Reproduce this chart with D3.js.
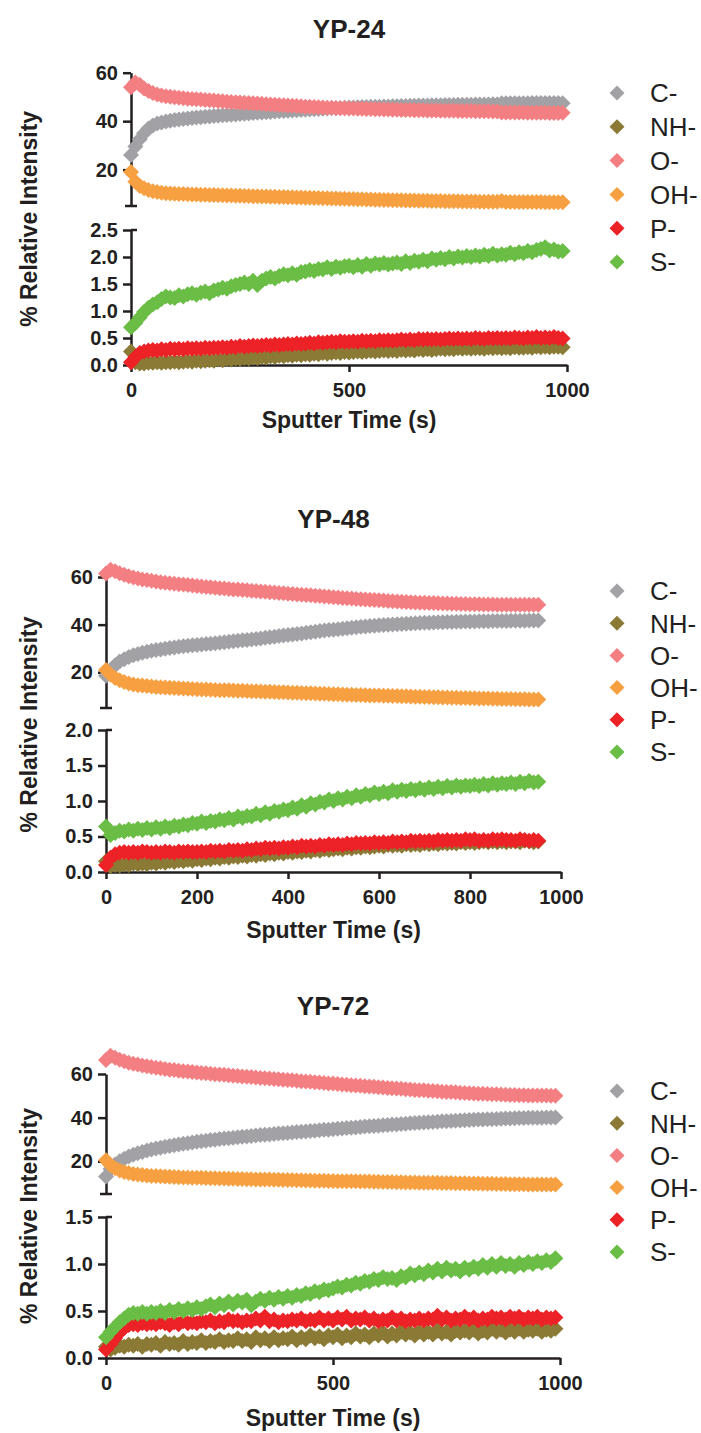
<!DOCTYPE html>
<html>
<head>
<meta charset="utf-8">
<script src="https://cdn.jsdelivr.net/npm/d3@7"></script>
<style>
  body { margin: 0; background: #fff; }
  svg { display: block; }
  .axis path, .axis line { stroke: #231f20; stroke-width: 2.5px; }
  .axis text { font-family: "Liberation Sans", Arial, sans-serif; font-weight: bold; font-size: 20px; fill: #231f20; }
</style>
</head>
<body>
<div id="chart"></div>
<script>
// Depth profiles: % relative intensity vs sputter time, one point every 10 s

const series = ["C-", "NH-", "O-", "OH-", "P-", "S-"];
const colors = ["#a2a1a5", "#8a7a35", "#f47f83", "#f7a042", "#ec2227", "#6abd45"];
const upperSeries = ["C-", "O-", "OH-"];
const stepSeconds = 10;

// ---- YP-24 ----
const c24 = [26.0,29.5,32.5,35.0,37.0,38.2,39.0,39.5,39.9,40.2, 40.5,40.7,40.9,41.1,41.3,41.5,41.6,41.8,41.9,42.1,
  42.2,42.4,42.5,42.7,42.8,43.0,43.1,43.2,43.4,43.5, 43.6,43.7,43.8,44.0,44.1,44.2,44.3,44.4,44.5,44.6,
  44.7,44.8,44.9,45.0,45.1,45.2,45.3,45.3,45.4,45.5, 45.6,45.6,45.7,45.8,45.8,45.9,46.0,46.0,46.1,46.1,
  46.2,46.2,46.3,46.3,46.4,46.4,46.5,46.5,46.5,46.6, 46.6,46.6,46.7,46.7,46.7,46.8,46.8,46.8,46.8,46.9,
  46.9,46.9,46.9,47.0,47.0,47.4,47.4,47.4,47.4,47.4, 47.4,47.4,47.5,47.5,47.5,47.5,47.5,47.5,47.5,47.4];
const nh24 = [0.25,0.05,0.03,0.03,0.04,0.04,0.05,0.04,0.05,0.05, 0.06,0.05,0.06,0.07,0.06,0.08,0.07,0.08,0.09,0.08,
  0.10,0.09,0.11,0.10,0.12,0.11,0.13,0.12,0.14,0.13, 0.15,0.14,0.16,0.15,0.17,0.16,0.18,0.17,0.19,0.18,
  0.20,0.19,0.21,0.20,0.22,0.21,0.22,0.23,0.22,0.24, 0.23,0.24,0.25,0.24,0.25,0.26,0.25,0.26,0.27,0.26,
  0.27,0.26,0.28,0.27,0.28,0.27,0.29,0.28,0.29,0.28, 0.29,0.30,0.29,0.30,0.29,0.31,0.30,0.31,0.30,0.31,
  0.31,0.30,0.32,0.31,0.32,0.31,0.32,0.31,0.33,0.32, 0.32,0.33,0.32,0.34,0.33,0.34,0.33,0.34,0.34,0.33];
const o24 = [54.0,56.0,55.0,53.5,52.4,51.6,51.0,50.6,50.3,50.1, 49.9,49.7,49.5,49.3,49.2,49.0,48.9,48.7,48.6,48.5,
  48.3,48.2,48.0,47.9,47.8,47.7,47.6,47.5,47.4,47.3, 47.2,47.0,46.9,46.8,46.7,46.6,46.5,46.4,46.3,46.2,
  46.0,45.9,45.8,45.7,45.6,45.5,45.5,45.4,45.3,45.3, 45.2,45.2,45.1,45.1,45.0,45.0,44.9,44.9,44.8,44.8,
  44.7,44.7,44.6,44.6,44.6,44.5,44.5,44.5,44.4,44.4, 44.4,44.3,44.3,44.3,44.3,44.2,44.2,44.2,44.2,44.1,
  44.1,44.1,44.1,44.0,44.0,43.6,43.6,43.6,43.6,43.6, 43.6,43.5,43.5,43.5,43.5,43.5,43.4,43.4,43.4,43.5];
const oh24 = [19.0,15.0,13.3,12.3,11.6,11.1,10.8,10.5,10.3,10.2, 10.1,10.0,9.9,9.8,9.7,9.7,9.6,9.6,9.5,9.5,
  9.4,9.4,9.3,9.3,9.2,9.2,9.1,9.1,9.0,9.0, 8.9,8.9,8.8,8.8,8.7,8.7,8.6,8.6,8.5,8.5,
  8.4,8.4,8.3,8.3,8.2,8.2,8.1,8.1,8.0,8.0, 7.9,7.9,7.8,7.8,7.7,7.7,7.6,7.6,7.5,7.5,
  7.4,7.4,7.4,7.3,7.3,7.3,7.2,7.2,7.2,7.1, 7.1,7.1,7.0,7.0,7.0,7.0,6.9,6.9,6.9,6.9,
  6.8,6.8,6.8,6.8,6.8,7.1,6.7,6.7,6.7,6.7, 6.6,6.6,6.6,6.6,6.6,6.5,6.5,6.5,6.5,6.5];
const p24 = [0.05,0.15,0.22,0.25,0.27,0.28,0.27,0.29,0.28,0.30, 0.29,0.30,0.29,0.31,0.30,0.31,0.30,0.32,0.31,0.32,
  0.32,0.33,0.32,0.34,0.33,0.35,0.34,0.35,0.36,0.35, 0.36,0.37,0.36,0.38,0.37,0.38,0.39,0.38,0.40,0.39,
  0.40,0.41,0.40,0.42,0.41,0.42,0.43,0.42,0.44,0.43, 0.43,0.44,0.43,0.45,0.44,0.45,0.44,0.46,0.45,0.46,
  0.45,0.46,0.47,0.46,0.47,0.46,0.48,0.47,0.48,0.47, 0.48,0.47,0.48,0.49,0.48,0.49,0.48,0.49,0.48,0.50,
  0.49,0.48,0.50,0.49,0.50,0.49,0.50,0.49,0.51,0.50, 0.49,0.51,0.50,0.52,0.50,0.51,0.50,0.52,0.50,0.49];
const s24 = [0.70,0.78,0.88,0.98,1.06,1.12,1.16,1.22,1.27,1.25, 1.24,1.29,1.27,1.31,1.33,1.30,1.34,1.36,1.33,1.38,
  1.40,1.43,1.41,1.46,1.48,1.50,1.53,1.50,1.56,1.48, 1.56,1.60,1.63,1.60,1.65,1.68,1.66,1.70,1.67,1.72,
  1.73,1.76,1.74,1.78,1.77,1.81,1.78,1.82,1.80,1.83, 1.84,1.81,1.85,1.82,1.87,1.84,1.88,1.86,1.89,1.86,
  1.88,1.90,1.87,1.92,1.89,1.93,1.91,1.95,1.92,1.97, 1.95,1.98,1.96,2.00,1.97,2.01,1.99,2.02,2.00,2.03,
  2.01,2.04,2.02,2.06,2.03,2.05,2.04,2.08,2.05,2.09, 2.07,2.11,2.09,2.13,2.15,2.18,2.12,2.14,2.10,2.11];

// ---- YP-48 ----
const c48 = [18.5,21.0,23.0,24.5,25.5,26.4,27.1,27.7,28.2,28.6, 29.0,29.3,29.6,29.9,30.2,30.4,30.7,30.9,31.1,31.3,
  31.5,31.7,31.9,32.0,32.2,32.4,32.6,32.8,33.0,33.2, 33.4,33.6,33.8,34.0,34.2,34.5,34.7,34.9,35.2,35.4,
  35.6,35.9,36.1,36.3,36.6,36.8,37.0,37.3,37.5,37.7, 37.9,38.1,38.3,38.5,38.7,38.9,39.1,39.2,39.4,39.5,
  39.7,39.8,39.9,40.1,40.2,40.3,40.4,40.5,40.6,40.7, 40.8,40.8,40.9,41.0,41.0,41.1,41.1,41.2,41.2,41.3,
  41.3,41.3,41.4,41.4,41.4,41.5,41.5,41.5,41.5,41.6, 41.6,41.6,41.6,41.7,41.7,41.7];
const nh48 = [0.15,0.08,0.10,0.09,0.11,0.10,0.12,0.11,0.12,0.11, 0.13,0.12,0.14,0.13,0.15,0.14,0.16,0.15,0.17,0.16,
  0.18,0.17,0.19,0.18,0.20,0.19,0.21,0.20,0.22,0.21, 0.23,0.22,0.24,0.23,0.25,0.24,0.26,0.25,0.27,0.26,
  0.28,0.27,0.29,0.28,0.30,0.29,0.31,0.30,0.32,0.31, 0.32,0.33,0.32,0.34,0.33,0.35,0.34,0.36,0.35,0.36,
  0.37,0.36,0.38,0.37,0.38,0.37,0.39,0.38,0.39,0.38, 0.40,0.39,0.40,0.39,0.41,0.40,0.41,0.40,0.42,0.41,
  0.42,0.41,0.42,0.43,0.42,0.43,0.42,0.43,0.42,0.43, 0.43,0.42,0.44,0.43,0.42,0.43];
const o48 = [61.5,63.0,62.4,61.6,60.9,60.3,59.8,59.4,59.0,58.7, 58.4,58.1,57.8,57.6,57.4,57.2,57.0,56.8,56.6,56.4,
  56.2,56.0,55.8,55.7,55.5,55.3,55.2,55.0,54.8,54.7, 54.5,54.4,54.2,54.1,53.9,53.8,53.6,53.5,53.3,53.2,
  53.0,52.9,52.7,52.6,52.4,52.3,52.1,52.0,51.8,51.7, 51.5,51.4,51.2,51.1,51.0,50.8,50.7,50.6,50.4,50.3,
  50.2,50.1,49.9,49.8,49.7,49.6,49.5,49.4,49.3,49.2, 49.2,49.1,49.1,49.0,48.9,48.9,48.8,48.8,48.7,48.7,
  48.6,48.6,48.6,48.5,48.5,48.5,48.4,48.4,48.4,48.4, 48.3,48.3,48.3,48.3,48.3,48.3];
const oh48 = [21.0,19.0,17.6,16.6,15.9,15.3,14.9,14.6,14.4,14.2, 14.0,13.8,13.7,13.6,13.5,13.4,13.3,13.2,13.1,13.0,
  12.9,12.8,12.8,12.7,12.6,12.5,12.5,12.4,12.3,12.2, 12.2,12.1,12.0,12.0,11.9,11.8,11.8,11.7,11.6,11.6,
  11.5,11.4,11.4,11.3,11.2,11.2,11.1,11.0,11.0,10.9, 10.8,10.8,10.7,10.6,10.6,10.5,10.5,10.4,10.3,10.3,
  10.2,10.1,10.1,10.0,10.0,9.9,9.9,9.8,9.7,9.7, 9.6,9.6,9.5,9.5,9.4,9.4,9.3,9.3,9.2,9.2,
  9.1,9.1,9.0,9.0,9.0,8.9,8.9,8.8,8.8,8.8, 8.7,8.7,8.7,8.6,8.6,8.6];
const p48 = [0.10,0.20,0.25,0.27,0.28,0.27,0.28,0.27,0.29,0.28, 0.27,0.28,0.27,0.29,0.28,0.27,0.29,0.28,0.29,0.28,
  0.28,0.29,0.28,0.30,0.29,0.30,0.29,0.31,0.30,0.31, 0.30,0.32,0.31,0.33,0.32,0.34,0.33,0.34,0.33,0.35,
  0.34,0.36,0.35,0.37,0.36,0.37,0.36,0.38,0.37,0.39, 0.38,0.39,0.38,0.40,0.39,0.41,0.40,0.41,0.40,0.42,
  0.41,0.42,0.41,0.43,0.42,0.43,0.42,0.44,0.43,0.44, 0.43,0.44,0.43,0.45,0.44,0.45,0.44,0.45,0.44,0.46,
  0.45,0.46,0.44,0.45,0.44,0.46,0.45,0.46,0.45,0.45, 0.44,0.46,0.45,0.44,0.45,0.44];
const s48 = [0.64,0.52,0.55,0.58,0.57,0.60,0.58,0.61,0.59,0.62, 0.60,0.63,0.61,0.64,0.62,0.65,0.64,0.67,0.66,0.69,
  0.68,0.71,0.69,0.72,0.71,0.74,0.73,0.76,0.74,0.78, 0.76,0.79,0.78,0.82,0.80,0.84,0.82,0.86,0.85,0.88,
  0.87,0.91,0.89,0.94,0.92,0.97,0.95,0.99,0.98,1.02, 1.00,1.04,1.02,1.06,1.04,1.08,1.06,1.10,1.08,1.12,
  1.10,1.13,1.11,1.15,1.13,1.16,1.14,1.17,1.15,1.18, 1.16,1.19,1.17,1.20,1.18,1.21,1.19,1.22,1.20,1.22,
  1.21,1.23,1.21,1.24,1.22,1.25,1.23,1.25,1.24,1.26, 1.24,1.27,1.25,1.28,1.26,1.27];

// ---- YP-72 ----
const c72 = [13.0,16.5,18.5,20.0,21.2,22.2,23.0,23.7,24.3,24.9, 25.4,25.8,26.2,26.6,27.0,27.4,27.7,28.0,28.3,28.6,
  28.9,29.2,29.4,29.7,29.9,30.2,30.4,30.6,30.8,31.0, 31.2,31.4,31.6,31.8,32.0,32.2,32.3,32.5,32.7,32.9,
  33.0,33.2,33.4,33.5,33.7,33.9,34.0,34.2,34.4,34.5, 34.7,34.9,35.0,35.2,35.4,35.5,35.7,35.9,36.0,36.2,
  36.3,36.5,36.6,36.8,36.9,37.1,37.2,37.4,37.5,37.6, 37.8,37.9,38.0,38.1,38.3,38.4,38.5,38.6,38.7,38.8,
  38.9,39.0,39.1,39.2,39.3,39.3,39.4,39.5,39.6,39.6, 39.7,39.8,39.8,39.9,39.9,40.0,40.0,40.1,40.1,40.1];
const nh72 = [0.12,0.09,0.11,0.13,0.12,0.14,0.13,0.15,0.12,0.15, 0.14,0.16,0.13,0.17,0.15,0.16,0.14,0.18,0.15,0.17,
  0.16,0.19,0.16,0.18,0.17,0.20,0.17,0.19,0.18,0.21, 0.18,0.20,0.17,0.22,0.19,0.21,0.18,0.22,0.19,0.21,
  0.20,0.23,0.19,0.22,0.20,0.24,0.21,0.23,0.20,0.24, 0.22,0.25,0.21,0.24,0.22,0.26,0.23,0.25,0.22,0.26,
  0.24,0.27,0.23,0.26,0.24,0.28,0.25,0.27,0.24,0.28, 0.25,0.28,0.25,0.29,0.26,0.28,0.25,0.29,0.27,0.29,
  0.27,0.30,0.26,0.29,0.27,0.31,0.28,0.30,0.27,0.30, 0.28,0.31,0.28,0.30,0.29,0.31,0.28,0.30,0.29,0.31];
const o72 = [66.4,68.4,67.4,66.5,65.8,65.2,64.7,64.3,63.9,63.5, 63.2,62.9,62.6,62.3,62.0,61.8,61.5,61.3,61.1,60.9,
  60.7,60.5,60.3,60.1,59.9,59.8,59.6,59.4,59.2,59.1, 58.9,58.7,58.6,58.4,58.2,58.1,57.9,57.7,57.6,57.4,
  57.2,57.1,56.9,56.7,56.6,56.4,56.2,56.1,55.9,55.7, 55.6,55.4,55.2,55.1,54.9,54.7,54.6,54.4,54.3,54.1,
  53.9,53.8,53.6,53.5,53.3,53.2,53.0,52.9,52.7,52.6, 52.5,52.3,52.2,52.1,51.9,51.8,51.7,51.6,51.4,51.3,
  51.2,51.1,51.0,50.9,50.8,50.7,50.7,50.6,50.5,50.4, 50.4,50.3,50.3,50.2,50.2,50.1,50.1,50.1,50.0,50.0];
const oh72 = [20.5,18.2,16.8,15.8,15.1,14.6,14.2,13.9,13.7,13.5, 13.3,13.2,13.1,13.0,12.9,12.8,12.7,12.6,12.6,12.5,
  12.4,12.4,12.3,12.2,12.2,12.1,12.1,12.0,12.0,11.9, 11.9,11.8,11.8,11.7,11.7,11.6,11.6,11.5,11.5,11.4,
  11.4,11.4,11.3,11.3,11.2,11.2,11.1,11.1,11.1,11.0, 11.0,10.9,10.9,10.9,10.8,10.8,10.7,10.7,10.7,10.6,
  10.6,10.5,10.5,10.5,10.4,10.4,10.3,10.3,10.3,10.2, 10.2,10.2,10.1,10.1,10.0,10.0,10.0,9.9,9.9,9.9,
  9.8,9.8,9.8,9.7,9.7,9.7,9.6,9.6,9.6,9.5, 9.5,9.5,9.5,9.4,9.4,9.4,9.3,9.3,9.3,9.3];
const p72 = [0.09,0.15,0.21,0.27,0.32,0.35,0.36,0.35,0.37,0.36, 0.37,0.36,0.38,0.37,0.35,0.38,0.36,0.39,0.37,0.38,
  0.37,0.39,0.38,0.40,0.37,0.39,0.38,0.41,0.39,0.40, 0.38,0.40,0.39,0.42,0.40,0.44,0.39,0.41,0.38,0.40,
  0.39,0.41,0.40,0.42,0.39,0.41,0.40,0.43,0.40,0.42, 0.40,0.43,0.41,0.44,0.40,0.42,0.41,0.43,0.40,0.42,
  0.39,0.41,0.40,0.43,0.40,0.42,0.39,0.41,0.40,0.42, 0.40,0.42,0.41,0.45,0.41,0.43,0.40,0.42,0.41,0.44,
  0.41,0.43,0.40,0.42,0.41,0.44,0.42,0.43,0.41,0.44, 0.42,0.44,0.41,0.43,0.42,0.44,0.41,0.43,0.42,0.43];
const s72 = [0.22,0.28,0.33,0.38,0.42,0.46,0.48,0.47,0.49,0.47, 0.49,0.48,0.50,0.48,0.51,0.49,0.52,0.50,0.53,0.51,
  0.54,0.52,0.55,0.57,0.54,0.58,0.56,0.60,0.57,0.61, 0.59,0.62,0.56,0.60,0.63,0.61,0.64,0.62,0.65,0.63,
  0.66,0.64,0.67,0.66,0.69,0.68,0.71,0.70,0.73,0.72, 0.74,0.76,0.75,0.78,0.77,0.80,0.79,0.82,0.81,0.84,
  0.83,0.86,0.84,0.85,0.83,0.87,0.86,0.90,0.88,0.91, 0.89,0.93,0.91,0.95,0.92,0.96,0.93,0.95,0.92,0.96,
  0.94,0.97,0.95,0.99,0.96,1.00,0.97,1.01,0.98,1.00, 0.97,1.01,0.99,1.02,1.00,1.03,1.01,1.04,1.02,1.06];

// tick labels
const upperTicks = [20, 40, 60];
const lowerTicks24 = [0, 0.5, 1.0, 1.5, 2.0, 2.5];
const lowerTicks48 = [0, 0.5, 1.0, 1.5, 2.0];
const lowerTicks72 = [0, 0.5, 1.0, 1.5];
const xTicks24 = [0, 500, 1000];
const xTicks48 = [0, 200, 400, 600, 800, 1000];
const xTicks72 = [0, 500, 1000];

const width = 701, height = 1433;
const FONT = '"Liberation Sans", Arial, sans-serif';
const INK = "#231f20";

// layout for each panel (pixel positions)
const panels = [
    { title: "YP-24", data: [c24, nh24, o24, oh24, p24, s24],
      lowerMax: 2.5, lowerTicks: lowerTicks24, xTicks: xTicks24,
      x0: 131, x1: 567, upTop: 72.7, upBot: 206, lowTop: 230, lowBot: 365,
      titleY: 38, xLabelY: 428, legendY: 93, legendStep: 33.8 },
    { title: "YP-48", data: [c48, nh48, o48, oh48, p48, s48],
      lowerMax: 2.0, lowerTicks: lowerTicks48, xTicks: xTicks48,
      x0: 106, x1: 561, upTop: 577, upBot: 708, lowTop: 730, lowBot: 872,
      titleY: 528, xLabelY: 938, legendY: 591, legendStep: 32.2 },
    { title: "YP-72", data: [c72, nh72, o72, oh72, p72, s72],
      lowerMax: 1.5, lowerTicks: lowerTicks72, xTicks: xTicks72,
      x0: 106, x1: 560, upTop: 1074, upBot: 1194, lowTop: 1217, lowBot: 1358,
      titleY: 1015, xLabelY: 1426, legendY: 1091, legendStep: 32.2 }
];

const diamond = r => `M0,${-r}L${r},0L0,${r}L${-r},0Z`;

const svg = d3.select("#chart")
    .append("svg")
    .attr("width", width)
    .attr("height", height);

svg.append("rect").attr("width", width).attr("height", height).attr("fill", "#fff");

panels.forEach(p => {
    const g = svg.append("g");

    const x = d3.scaleLinear().domain([0, 1000]).range([p.x0, p.x1]);
    const yUp = d3.scaleLinear().domain([5, 60]).range([p.upBot, p.upTop]);
    const yLow = d3.scaleLinear().domain([0, p.lowerMax]).range([p.lowBot, p.lowTop]);

    // title
    g.append("text")
        .attr("x", (p.x0 + p.x1) / 2)
        .attr("y", p.titleY)
        .attr("text-anchor", "middle")
        .attr("font-family", FONT)
        .attr("font-weight", "bold")
        .attr("font-size", "26px")
        .attr("fill", INK)
        .text(p.title);

    // axes
    g.append("g")
        .attr("class", "axis")
        .attr("transform", `translate(${p.x0},0)`)
        .call(d3.axisLeft(yUp).tickValues(upperTicks).tickFormat(d3.format("d"))
            .tickSize(8).tickPadding(5).tickSizeOuter(0));

    g.append("g")
        .attr("class", "axis")
        .attr("transform", `translate(${p.x0},0)`)
        .call(d3.axisLeft(yLow).tickValues(p.lowerTicks).tickFormat(d3.format(".1f"))
            .tickSize(8).tickPadding(5).tickSizeOuter(0));

    g.append("g")
        .attr("class", "axis")
        .attr("transform", `translate(0,${p.lowBot})`)
        .call(d3.axisBottom(x).tickValues(p.xTicks).tickFormat(d3.format("d"))
            .tickSize(7).tickPadding(11).tickSizeOuter(0));

    // caps at the axis break
    g.append("line")
        .attr("x1", p.x0 - 6).attr("x2", p.x0 + 6)
        .attr("y1", p.upBot).attr("y2", p.upBot)
        .attr("stroke", INK).attr("stroke-width", 2.5);
    g.append("line")
        .attr("x1", p.x0).attr("x2", p.x0 + 6)
        .attr("y1", p.lowTop).attr("y2", p.lowTop)
        .attr("stroke", INK).attr("stroke-width", 2.5);

    // axis labels
    g.append("text")
        .attr("x", (p.x0 + p.x1) / 2)
        .attr("y", p.xLabelY)
        .attr("text-anchor", "middle")
        .attr("font-family", FONT)
        .attr("font-weight", "bold")
        .attr("font-size", "23px")
        .attr("fill", INK)
        .text("Sputter Time (s)");

    g.append("text")
        .attr("transform", `translate(37,${(p.upTop + p.lowBot) / 2}) rotate(-90)`)
        .attr("text-anchor", "middle")
        .attr("font-family", FONT)
        .attr("font-weight", "bold")
        .attr("font-size", "23px")
        .attr("fill", INK)
        .text("% Relative Intensity");

    // points
    series.forEach((name, i) => {
        const y = upperSeries.includes(name) ? yUp : yLow;
        g.append("g")
            .selectAll("path")
            .data(p.data[i])
            .enter()
            .append("path")
            .attr("d", diamond(8))
            .attr("transform", (d, k) => `translate(${x(k * stepSeconds)},${y(d)})`)
            .attr("fill", colors[i]);
    });

    // legend
    const legend = g.append("g");
    series.forEach((name, i) => {
        const ly = p.legendY + i * p.legendStep;
        legend.append("path")
            .attr("d", diamond(7.5))
            .attr("transform", `translate(617,${ly})`)
            .attr("fill", colors[i]);
        legend.append("text")
            .attr("x", 650)
            .attr("y", ly)
            .attr("dy", "0.36em")
            .attr("font-family", FONT)
            .attr("font-size", "26px")
            .attr("fill", INK)
            .text(name);
    });
});
</script>
</body>
</html>
